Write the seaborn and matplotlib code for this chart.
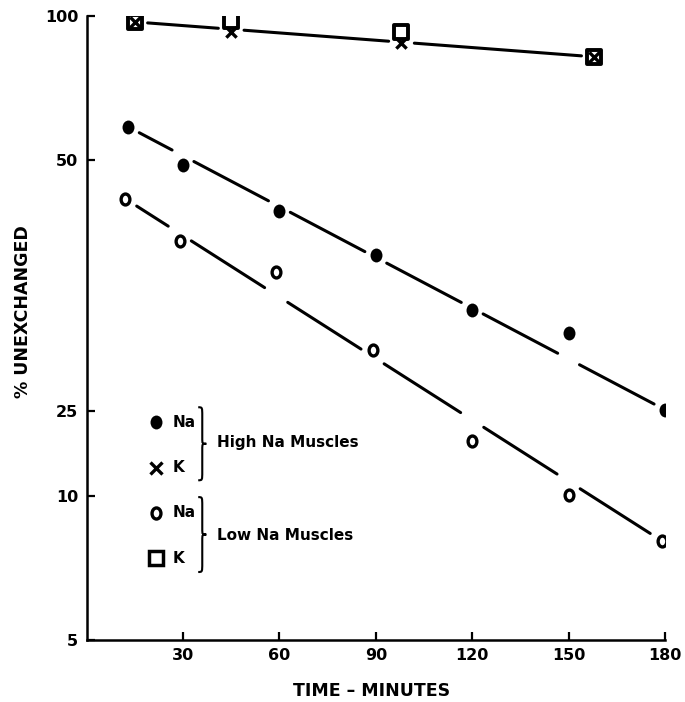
import matplotlib
matplotlib.use("Agg")
import matplotlib.pyplot as plt
import seaborn as sns
import numpy as np
from matplotlib.path import Path
from matplotlib.patches import PathPatch
from matplotlib.transforms import Affine2D
from matplotlib.ticker import FixedLocator, FixedFormatter, NullLocator

# values (% unexchanged vs time in minutes)
high_na_times = [13, 30, 60, 90, 120, 150, 180]
high_na = [58.7, 49.0, 39.3, 31.8, 24.4, 21.8, 15.1]
low_na_times = [12, 29, 59, 89, 120, 150, 179]
low_na = [41.6, 34.0, 29.3, 20.1, 13.0, 10.05, 8.05]
k_times = [15, 45, 98, 158]
high_k = [97.2, 92.6, 87.9, 82.2]
low_k = [97.2, 97.6, 92.8, 82.2]

# fitted lines, endpoints as drawn
high_na_fit_t = [13, 180]
high_na_fit = [58.7, 15.1]
low_na_fit_t = [12, 179]
low_na_fit = [41.6, 8.05]
k_fit_t = [15, 158]
k_fit = [97.2, 82.2]

xticks = [30, 60, 90, 120, 150, 180]
yticks = [5, 10, 15, 50, 100]
yticklabels = ["5", "10", "25", "50", "100"]

sns.set_style("ticks")
plt.rcParams["font.family"] = ["DejaVu Sans"]
plt.rcParams["font.weight"] = "bold"
plt.rcParams["text.color"] = "black"
plt.rcParams["axes.labelcolor"] = "black"
plt.rcParams["xtick.color"] = "black"
plt.rcParams["ytick.color"] = "black"
plt.rcParams["axes.edgecolor"] = "black"

ell = Path.unit_circle().transformed(Affine2D().scale(0.86, 1.0))
ring = Path.unit_circle().transformed(Affine2D().scale(0.8, 1.0))


def brace(ax, x, y0, y1, w):
    ym = (y0 + y1) / 2
    h = y1 - y0
    c = x + w / 2
    verts = [
        (x, y1), (c, y1), (c, y1), (c, y1 - 0.12 * h),
        (c, ym + 0.08 * h),
        (c, ym), (c, ym), (x + w, ym),
        (c, ym), (c, ym), (c, ym - 0.08 * h),
        (c, y0 + 0.12 * h),
        (c, y0), (c, y0), (x, y0),
    ]
    codes = [Path.MOVETO, Path.CURVE4, Path.CURVE4, Path.CURVE4,
             Path.LINETO,
             Path.CURVE4, Path.CURVE4, Path.CURVE4,
             Path.CURVE4, Path.CURVE4, Path.CURVE4,
             Path.LINETO,
             Path.CURVE4, Path.CURVE4, Path.CURVE4]
    ax.add_patch(PathPatch(Path(verts, codes), transform=ax.transAxes,
                           fill=False, lw=1.5, color="black", clip_on=False))


def broken_fit(ax, times, fit_t, fit_v, gap):
    # straight line (in log space) drawn in pieces, broken at every point
    logv = np.log10(fit_v)
    for a, b in zip(times[:-1], times[1:]):
        seg_t = [a + gap, b - gap]
        seg_v = 10 ** np.interp(seg_t, fit_t, logv)
        sns.lineplot(x=seg_t, y=seg_v, color="black", linewidth=2.2, ax=ax)


fig = plt.figure(figsize=(6.85, 7.02), dpi=100)
ax = fig.add_axes([0.1264, 0.0883, 0.8444, 0.8889])

broken_fit(ax, high_na_times, high_na_fit_t, high_na_fit, 3.4)
broken_fit(ax, low_na_times, low_na_fit_t, low_na_fit, 3.6)
broken_fit(ax, k_times, k_fit_t, k_fit, 4.0)

# points
sns.scatterplot(x=high_na_times, y=high_na, marker=ell, s=100, color="black", linewidth=0, ax=ax, zorder=3)
sns.scatterplot(x=low_na_times, y=low_na, marker=ring, s=62, facecolor="white", edgecolor="black",
                linewidth=2.4, ax=ax, zorder=3)
sns.scatterplot(x=k_times, y=low_k, marker="s", s=105, facecolor="white", edgecolor="black",
                linewidth=2.8, ax=ax, zorder=3)
sns.scatterplot(x=k_times, y=high_k, marker="x", s=55, color="black", linewidth=2.4, ax=ax, zorder=4)

# legend drawn in axes coordinates
mx, tx = 0.120, 0.149
ax.plot([mx], [0.349], marker=ell, ms=10, color="black", mew=0, transform=ax.transAxes, clip_on=False)
ax.plot([mx], [0.276], marker="x", ms=8, color="black", mew=2.4, transform=ax.transAxes, clip_on=False)
ax.plot([mx], [0.204], marker=ring, ms=8, mfc="white", mec="black", mew=2.4,
        transform=ax.transAxes, clip_on=False)
ax.plot([mx], [0.131], marker="s", ms=10, mfc="white", mec="black", mew=2.5,
        transform=ax.transAxes, clip_on=False)
for yy, lab in [(0.349, "Na"), (0.276, "K"), (0.204, "Na"), (0.131, "K")]:
    ax.text(tx, yy, lab, transform=ax.transAxes, fontsize=11, va="center", ha="left")
brace(ax, 0.193, 0.256, 0.373, 0.014)
brace(ax, 0.193, 0.109, 0.229, 0.014)
ax.text(0.225, 0.316, "High Na Muscles", transform=ax.transAxes, fontsize=11, va="center", ha="left")
ax.text(0.225, 0.168, "Low Na Muscles", transform=ax.transAxes, fontsize=11, va="center", ha="left")

ax.set_yscale("log")
ax.set_xlim(0, 180)
ax.set_ylim(5, 100)
ax.xaxis.set_major_locator(FixedLocator(xticks))
ax.xaxis.set_minor_locator(NullLocator())
ax.yaxis.set_major_locator(FixedLocator(yticks))
ax.yaxis.set_major_formatter(FixedFormatter(yticklabels))
ax.yaxis.set_minor_locator(NullLocator())
ax.tick_params(direction="in", length=6, width=1.6, labelsize=11.5, pad=6)

for side in ["top", "right"]:
    ax.spines[side].set_visible(False)
for side in ["left", "bottom"]:
    ax.spines[side].set_linewidth(1.8)

ax.set_xlabel("TIME \u2013 MINUTES", fontsize=12.5, fontweight="bold")
ax.set_ylabel("% UNEXCHANGED", fontsize=12.5, fontweight="bold")
ax.xaxis.set_label_coords(0.492, -0.068)
ax.yaxis.set_label_coords(-0.095, 0.527)

fig.savefig("out.png", dpi=100)
